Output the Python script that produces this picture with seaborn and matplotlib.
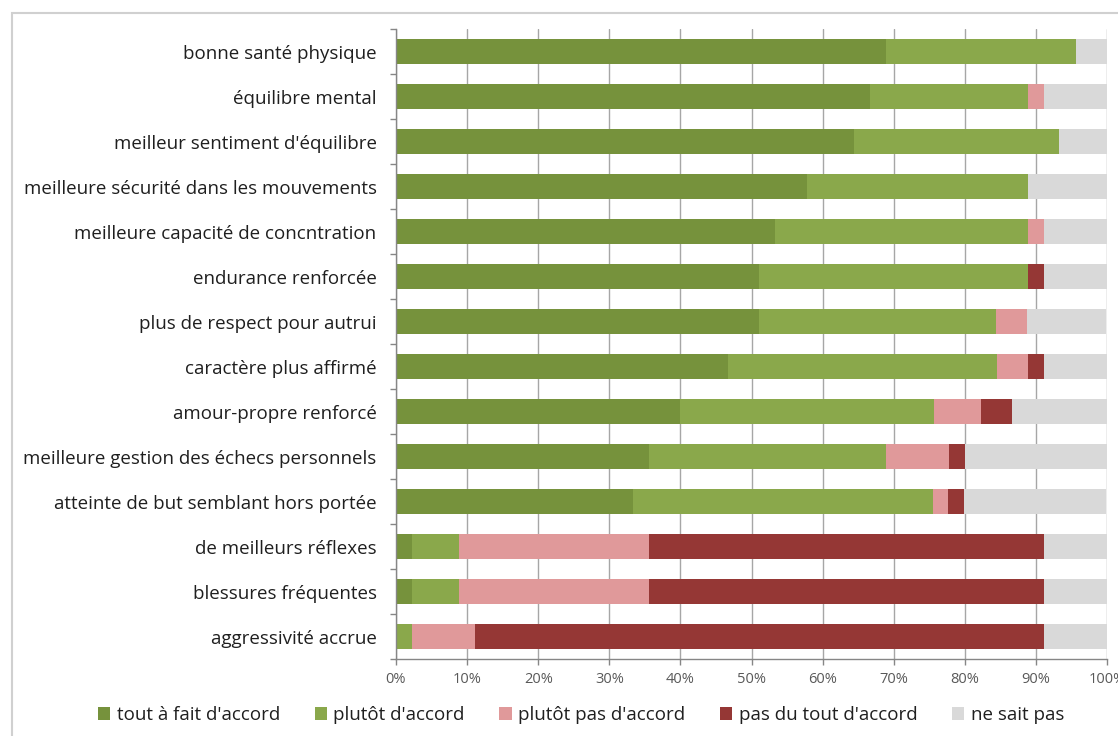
import matplotlib
matplotlib.use("Agg")
import matplotlib.pyplot as plt
from matplotlib.patches import Rectangle, Patch
from matplotlib.ticker import FixedLocator
import seaborn as sns
import pandas as pd
import numpy as np

categories = [
    "bonne santé physique",
    "équilibre mental",
    "meilleur sentiment d'équilibre",
    "meilleure sécurité dans les mouvements",
    "meilleure capacité de concntration",
    "endurance renforcée",
    "plus de respect pour autrui",
    "caractère plus affirmé",
    "amour-propre renforcé",
    "meilleure gestion des échecs personnels",
    "atteinte de but semblant hors portée",
    "de meilleurs réflexes",
    "blessures fréquentes",
    "aggressivité accrue",
]
series_names = ["tout à fait d'accord", "plutôt d'accord", "plutôt pas d'accord",
                "pas du tout d'accord", "ne sait pas"]

tout_a_fait = [68.9, 66.7, 64.4, 57.8, 53.3, 51.1, 51.1, 46.7, 40.0, 35.6, 33.3, 2.2, 2.2, 0.0]
plutot = [26.7, 22.2, 28.9, 31.1, 35.6, 37.8, 33.3, 37.8, 35.6, 33.3, 42.2, 6.7, 6.7, 2.2]
plutot_pas = [0.0, 2.2, 0.0, 0.0, 2.2, 0.0, 4.4, 4.4, 6.7, 8.9, 2.2, 26.7, 26.7, 8.9]
pas_du_tout = [0.0, 0.0, 0.0, 0.0, 0.0, 2.2, 0.0, 2.2, 4.4, 2.2, 2.2, 55.6, 55.6, 80.0]
ne_sait_pas = [4.4, 8.9, 6.7, 11.1, 8.9, 8.9, 11.1, 8.9, 13.3, 20.0, 20.0, 8.8, 8.8, 8.9]

x_ticks = [0, 10, 20, 30, 40, 50, 60, 70, 80, 90, 100]
x_tick_labels = ["0%", "10%", "20%", "30%", "40%", "50%", "60%", "70%", "80%", "90%", "100%"]

colors = ["#76923C", "#8AA84B", "#E0999A", "#953735", "#D9D9D9"]

sns.set_theme(style="white")
plt.rcParams["font.family"] = ["Open Sans", "DejaVu Sans"]

df = pd.DataFrame({
    "cat": categories,
    series_names[0]: tout_a_fait,
    series_names[1]: plutot,
    series_names[2]: plutot_pas,
    series_names[3]: pas_du_tout,
    series_names[4]: ne_sait_pas,
})
cum = df[series_names].cumsum(axis=1)

W, H = 1118, 736
fig = plt.figure(figsize=(W / 100, H / 100), dpi=100)
ax = fig.add_axes([396 / W, 1 - 659.3 / H, (1107 - 396) / W, (659.3 - 29.3) / H])

ax.set_axisbelow(True)
ax.xaxis.grid(True, color="#A6A6A6", linewidth=1.0)
ax.yaxis.grid(False)

for name, color in reversed(list(zip(series_names, colors))):
    sns.barplot(x=cum[name], y=df["cat"], orient="h", color=color, width=0.55,
                saturation=1, ax=ax, linewidth=0, order=categories)

ax.set_xlim(0, 100)
ax.set_ylim(13.5, -0.5)
ax.set_xlabel("")
ax.set_ylabel("")
ax.set_xticks(x_ticks)
ax.set_xticklabels(x_tick_labels, fontsize=10.5, color="#595959")
ax.tick_params(axis="x", direction="out", length=4, width=1, color="#868686", pad=5, bottom=True)
ax.tick_params(axis="y", which="major", length=0, pad=14, labelsize=13.5, labelcolor="#1f1f1f")
ax.yaxis.set_minor_locator(FixedLocator(np.arange(-0.5, 14, 1)))
ax.tick_params(axis="y", which="minor", length=4, width=1, color="#868686", left=True)

for s in ["top", "right"]:
    ax.spines[s].set_visible(False)
for s in ["left", "bottom"]:
    ax.spines[s].set_color("#868686")
    ax.spines[s].set_linewidth(1.0)

handles = [Patch(facecolor=c, edgecolor="none", label=n) for n, c in zip(series_names, colors)]
fig.legend(handles=handles, loc="center", bbox_to_anchor=(581 / W, 1 - 715 / H), ncol=5,
           frameon=False, fontsize=13.5, handlelength=0.65, handleheight=0.65,
           handletextpad=0.35, columnspacing=1.85, labelcolor="#1f1f1f")

fig.add_artist(Rectangle((11.7 / W, -0.1), 1.2, 1 - 12.7 / H + 0.1, transform=fig.transFigure,
                         fill=False, edgecolor="#D0D0D0", linewidth=1.5))

fig.savefig("out.png", dpi=100)
